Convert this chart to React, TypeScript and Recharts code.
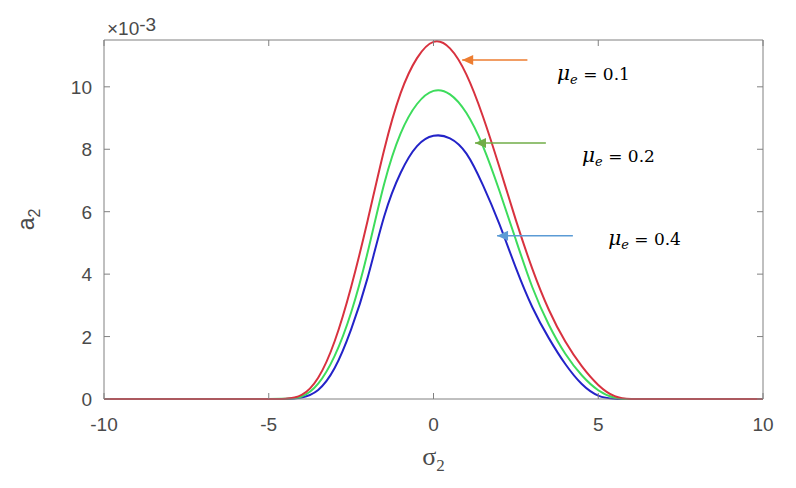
import { LineChart, Line, XAxis, YAxis, ReferenceDot, ReferenceLine } from 'recharts';

// sigma_2 grid and a_2 values (in units of 1e-3)
const sigma = [
    -10, -9.5, -9, -8.5, -8, -7.5, -7, -6.5, -6, -5.5, -5, -4.5, -4, -3.5, -3, -2.5, -2, -1.5, -1, -0.5,
    0, 0.5, 1, 1.5, 2, 2.5, 3, 3.5, 4, 4.5, 5, 5.5, 6, 6.5, 7, 7.5, 8, 8.5, 9, 9.5, 10,
];
const mu01 = [
    0, 0, 0, 0, 0, 0, 0, 0, 0, 0, 0, 0.01, 0.13, 0.68, 1.85, 3.59, 5.71, 7.97, 9.79, 10.92,
    11.44, 11.23, 10.39, 9.05, 7.43, 5.73, 4.17, 2.86, 1.84, 1.05, 0.45, 0.09, 0, 0, 0, 0, 0, 0, 0, 0, 0,
];
const mu02 = [
    0, 0, 0, 0, 0, 0, 0, 0, 0, 0, 0, 0.01, 0.08, 0.49, 1.38, 2.77, 4.69, 6.88, 8.5, 9.45,
    9.87, 9.76, 9.16, 8.1, 6.67, 5.1, 3.58, 2.38, 1.45, 0.76, 0.28, 0.04, 0, 0, 0, 0, 0, 0, 0, 0, 0,
];
const mu04 = [
    0, 0, 0, 0, 0, 0, 0, 0, 0, 0, 0, 0, 0.05, 0.29, 0.99, 2.23, 3.88, 5.84, 7.24, 8.1,
    8.43, 8.35, 7.86, 6.85, 5.6, 4.2, 2.94, 1.95, 1.12, 0.48, 0.11, 0.01, 0, 0, 0, 0, 0, 0, 0, 0, 0,
];

const xTicks = [-10, -5, 0, 5, 10];
const yTicks = [0, 2, 4, 6, 8, 10];

const rows = sigma.map((s, i) => ({ sigma: s, mu01: mu01[i], mu02: mu02[i], mu04: mu04[i] }));

// hand-drawn arrows + labels, anchored in data coordinates
const notes = [
    { value: '0.1', tipX: 0.87, tipY: 10.86, tailX: 2.85, textX: 3.75, textY: 10.23, color: '#ed7d31' },
    { value: '0.2', tipX: 1.26, tipY: 8.2, tailX: 3.41, textX: 4.51, textY: 7.59, color: '#70ad47' },
    { value: '0.4', tipX: 1.93, tipY: 5.23, tailX: 4.23, textX: 5.3, textY: 4.93, color: '#5b9bd5' },
];

const AXIS = '#808080';
const TEXT = '#4a4a4a';
const FONT = "'Liberation Sans', Arial, sans-serif";

function BottomTick({ x, y, payload }: any) {
    return <g>
        <line x1={x} x2={x} y1={y} y2={y - 6} stroke={AXIS} />
        <text x={x} y={y + 32} textAnchor="middle" fontFamily={FONT} fontSize={19} fill={TEXT}>{payload.value}</text>
    </g>;
}

function TopTick({ x, y }: any) {
    return <line x1={x} x2={x} y1={y} y2={y + 6} stroke={AXIS} />;
}

function LeftTick({ x, y, payload }: any) {
    return <g>
        <line x1={x} x2={x + 6} y1={y} y2={y} stroke={AXIS} />
        <text x={x - 12} y={y + 7} textAnchor="end" fontFamily={FONT} fontSize={19} fill={TEXT}>{payload.value}</text>
    </g>;
}

function RightTick({ x, y }: any) {
    return <line x1={x} x2={x - 6} y1={y} y2={y} stroke={AXIS} />;
}

const xTitle = (p: any) => {
    const vb = p.viewBox;
    return <text x={vb.x + vb.width / 2} y={vb.y + 66} textAnchor="middle" fontFamily="'Liberation Serif', serif" fontSize={26} fill={TEXT}>
        σ<tspan fontSize={17} dy={6}>2</tspan>
    </text>;
};

const yTitle = (p: any) => {
    const vb = p.viewBox;
    const cx = vb.x - 10;
    const cy = vb.y + vb.height / 2;
    return <text x={cx} y={cy} transform={`rotate(-90, ${cx}, ${cy})`} textAnchor="middle" fontFamily={FONT} fontSize={23} fill={TEXT}>
        a<tspan fontSize={16} dy={6}>2</tspan>
    </text>;
};

const exponent = (p: any) => {
    const vb = p.viewBox;
    return <text x={vb.x + 3} y={vb.y - 4} fontFamily={FONT} fontSize={19} fill={TEXT}>
        ×10<tspan dy={-4}>-3</tspan>
    </text>;
};

function arrowHead(color: string) {
    return ({ cx, cy }: any) => <path d={`M${cx},${cy} L${cx + 11},${cy - 5} L${cx + 11},${cy + 5} Z`} fill={color} />;
}

function noteText(value: string) {
    return ({ cx, cy }: any) => <text x={cx} y={cy} fontFamily="'DejaVu Serif', serif" fontSize={17} fill="#000">
        <tspan fontStyle="italic" fontSize={20}>μ</tspan>
        <tspan fontStyle="italic" fontSize={13} dy={4}>e</tspan>
        <tspan dy={-4}>{' = ' + value}</tspan>
    </text>;
}

export default function App() {
    return <div style={{ position: 'absolute', left: 0, top: 0, background: '#fff' }}>
        <LineChart width={796} height={488} data={rows} margin={{ top: 39, right: 32, bottom: 29, left: 44 }}>
            <XAxis dataKey="sigma" type="number" domain={[-10, 10]} ticks={xTicks} height={60}
                tickSize={0} tickMargin={0} tickLine={false} stroke={AXIS} tick={BottomTick} label={xTitle} />
            <XAxis xAxisId="top" dataKey="sigma" orientation="top" type="number" domain={[-10, 10]} ticks={xTicks} height={1}
                tickSize={0} tickMargin={0} tickLine={false} stroke={AXIS} tick={TopTick} label={exponent} />
            <YAxis type="number" domain={[0, 11.5]} ticks={yTicks} width={60}
                tickSize={0} tickMargin={0} tickLine={false} stroke={AXIS} tick={LeftTick} label={yTitle} />
            <YAxis yAxisId="right" orientation="right" type="number" domain={[0, 11.5]} ticks={yTicks} width={1}
                tickSize={0} tickMargin={0} tickLine={false} stroke={AXIS} tick={RightTick} />
            {/* invisible series so the frame axes get drawn */}
            <Line xAxisId="top" yAxisId="right" dataKey="mu04" stroke="none" dot={false} activeDot={false} isAnimationActive={false} />
            <Line type="natural" dataKey="mu04" stroke="#2323c8" strokeWidth={2} dot={false} isAnimationActive={false} />
            <Line type="natural" dataKey="mu02" stroke="#3ddc5c" strokeWidth={2} dot={false} isAnimationActive={false} />
            <Line type="natural" dataKey="mu01" stroke="#d8323f" strokeWidth={2} dot={false} isAnimationActive={false} />
            {notes.map(n => <ReferenceLine key={'l' + n.value} segment={[{ x: n.tipX, y: n.tipY }, { x: n.tailX, y: n.tipY }]} stroke={n.color} strokeWidth={1.3} />)}
            {notes.map(n => <ReferenceDot key={'a' + n.value} x={n.tipX} y={n.tipY} shape={arrowHead(n.color)} />)}
            {notes.map(n => <ReferenceDot key={'t' + n.value} x={n.textX} y={n.textY} shape={noteText(n.value)} />)}
        </LineChart>
    </div>;
}
